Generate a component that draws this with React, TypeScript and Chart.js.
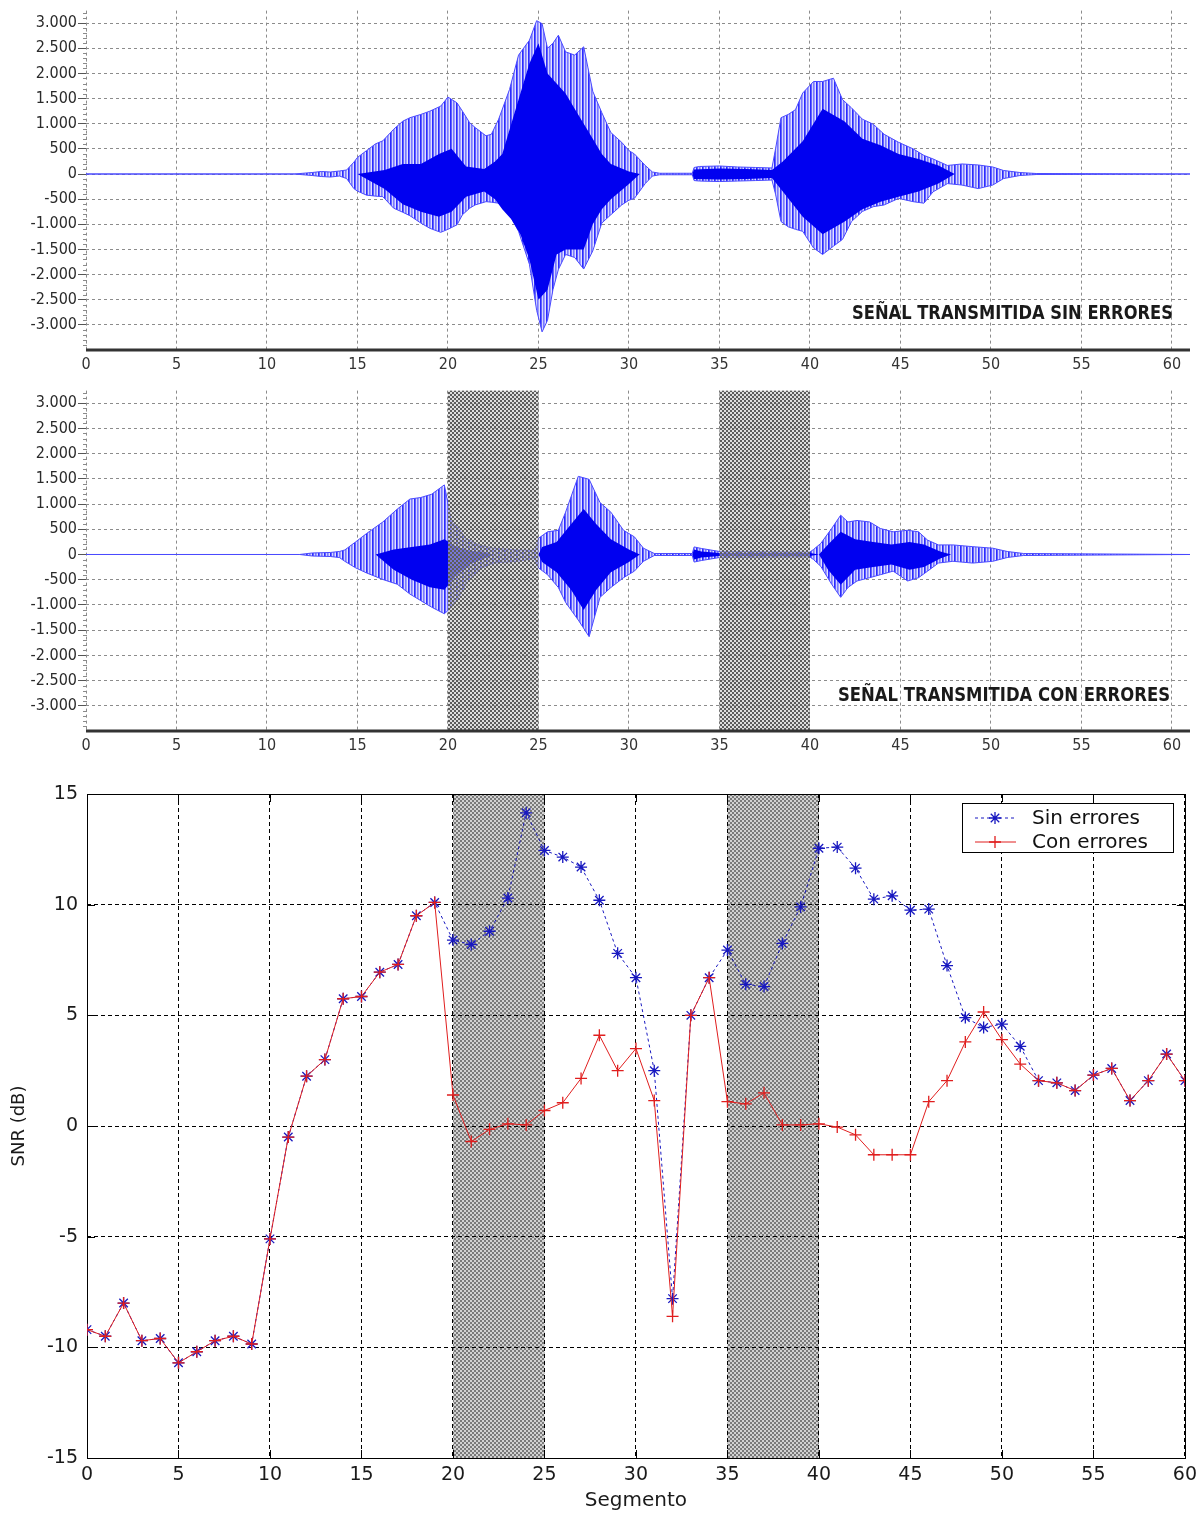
import React, { useEffect, useRef } from "react";
import { Chart, registerables } from "chart.js";

Chart.register(...registerables);

// ---------- shared axis data ----------
const segmentTicks = [0, 5, 10, 15, 20, 25, 30, 35, 40, 45, 50, 55, 60];
const segmentLabels = ["0", "5", "10", "15", "20", "25", "30", "35", "40", "45", "50", "55", "60"];
const ampTicks = [3000, 2500, 2000, 1500, 1000, 500, 0, -500, -1000, -1500, -2000, -2500, -3000];
const ampTickLabels = ["3.000", "2.500", "2.000", "1.500", "1.000", "500", "0", "-500", "-1.000", "-1.500", "-2.000", "-2.500", "-3.000"];
const errorSegments = [[20, 25], [35, 40]];

// ---------- panel 1: señal sin errores (amplitude envelope) ----------
const sinPos = [0, 11.5, 12.5, 13.0, 13.5, 14.0, 14.4, 14.8, 15.0, 15.5, 16.0, 16.4, 17.0, 17.5, 17.9, 18.5, 19.0, 19.6, 20.0, 20.5, 20.8, 21.2, 21.5, 22.1, 22.4, 22.8, 23.4, 23.9, 24.5, 24.9, 25.2, 25.5, 25.8, 26.1, 26.5, 27.0, 27.5, 28.0, 28.5, 29.0, 29.6, 30.0, 30.3, 30.9, 31.3, 31.7, 33.5, 33.6, 33.9, 35.0, 36.0, 37.0, 37.9, 38.1, 38.4, 38.8, 39.2, 39.6, 40.2, 40.7, 41.3, 41.8, 42.3, 42.9, 43.5, 44.1, 44.9, 45.7, 46.3, 46.8, 47.6, 48.4, 49.3, 50.1, 50.7, 51.6, 52.5, 61];
const sinUpper = [0, 0, 30, 50, 40, 60, 80, 235, 330, 465, 600, 660, 890, 1050, 1120, 1185, 1250, 1350, 1530, 1415, 1250, 1020, 925, 760, 790, 1090, 1680, 2365, 2660, 3050, 2990, 2500, 2600, 2760, 2430, 2365, 2530, 1645, 1220, 825, 630, 465, 400, 170, 40, 15, 15, 130, 150, 160, 140, 130, 120, 500, 1120, 1185, 1280, 1610, 1840, 1840, 1905, 1480, 1315, 1090, 990, 790, 630, 500, 370, 300, 170, 200, 180, 140, 70, 30, 10, 0];
const sinLower = [0, 0, -30, -50, -60, -40, -90, -290, -340, -420, -440, -450, -680, -760, -830, -975, -1080, -1160, -1100, -1010, -810, -680, -615, -550, -560, -580, -810, -1140, -1795, -2710, -3140, -2910, -2300, -1900, -1600, -1660, -1890, -1530, -975, -810, -615, -520, -485, -190, -40, -15, -15, -130, -140, -150, -140, -130, -120, -400, -945, -1050, -1100, -1140, -1470, -1600, -1435, -1300, -945, -745, -650, -615, -485, -550, -580, -355, -190, -220, -290, -220, -90, -30, -10, 0];
const sinCorePos = [15.0, 16.5, 17.5, 18.5, 19.5, 20.2, 21.0, 22.0, 22.6, 23.0, 23.5, 24.0, 24.5, 25.0, 25.5, 26.0, 26.5, 27.0, 27.5, 28.0, 28.5, 29.0, 30.0, 30.6, 33.5, 33.6, 35.0, 36.5, 37.9, 38.5, 39.6, 40.7, 41.9, 42.9, 43.9, 44.9, 46.0, 47.1, 48.0];
const sinCoreUpper = [0, 80, 200, 200, 400, 500, 150, 100, 250, 400, 1000, 1600, 2200, 2600, 2000, 1800, 1600, 1300, 1000, 700, 400, 200, 50, 0, 0, 90, 110, 100, 80, 250, 650, 1300, 1050, 700, 570, 400, 300, 170, 0];
const sinCoreLower = [0, -300, -600, -750, -850, -750, -450, -350, -500, -700, -900, -1200, -1700, -2500, -2300, -1600, -1500, -1500, -1500, -1000, -700, -500, -200, 0, 0, -100, -110, -100, -80, -350, -850, -1200, -950, -700, -550, -450, -350, -190, 0];

// ---------- panel 2: señal con errores ----------
const conPos = [0, 11.8, 12.5, 13.5, 14.0, 14.3, 14.9, 15.5, 16.4, 17.2, 17.9, 18.5, 19.1, 19.8, 20.2, 20.6, 21.0, 21.7, 22.5, 23.8, 24.8, 25.0, 25.5, 26.1, 26.5, 27.2, 27.8, 28.4, 29.0, 29.7, 30.3, 30.8, 31.4, 33.5, 33.6, 34.0, 35.0, 40.0, 40.2, 40.6, 41.2, 41.7, 42.1, 42.6, 43.3, 43.9, 44.6, 45.4, 46.0, 46.5, 47.1, 47.9, 49.0, 50.1, 50.9, 51.8, 61];
const conUpper = [0, 0, 30, 40, 60, 90, 250, 415, 645, 900, 1100, 1130, 1195, 1380, 645, 515, 320, 190, 125, 90, 80, 320, 450, 480, 840, 1550, 1490, 1030, 840, 480, 350, 125, 20, 20, 150, 120, 60, 50, 100, 220, 515, 780, 645, 675, 645, 515, 450, 480, 450, 285, 190, 190, 155, 125, 60, 20, 0];
const conLower = [0, 0, -30, -40, -60, -135, -265, -365, -495, -590, -785, -915, -1045, -1175, -1045, -850, -590, -300, -170, -135, -80, -265, -400, -655, -950, -1300, -1630, -850, -655, -460, -330, -135, -20, -20, -150, -120, -60, -50, -100, -235, -590, -850, -655, -525, -460, -400, -330, -525, -460, -330, -170, -135, -170, -135, -60, -20, 0];
const conCorePos = [16.0, 17.0, 18.0, 19.0, 19.8, 20.5, 21.2, 22.0, 22.5, 25.0, 25.2, 26.0, 26.8, 27.5, 28.2, 29.0, 30.0, 30.6, 33.5, 33.6, 34.0, 35.0, 40.0, 40.5, 41.0, 41.7, 42.5, 43.5, 44.5, 45.5, 46.3, 47.2, 47.8];
const conCoreUpper = [0, 100, 150, 200, 300, 150, 80, 40, 0, 0, 150, 250, 600, 900, 600, 300, 100, 0, 0, 100, 60, 30, 30, 0, 200, 450, 300, 250, 200, 250, 200, 60, 0];
const conCoreLower = [0, -300, -500, -650, -700, -400, -200, -80, 0, 0, -150, -350, -700, -1100, -700, -350, -150, 0, 0, -100, -60, -30, -30, 0, -300, -600, -300, -250, -200, -300, -250, -80, 0];

// ---------- panel 3: SNR por segmento ----------
const segmentos = [0, 1, 2, 3, 4, 5, 6, 7, 8, 9, 10, 11, 12, 13, 14, 15, 16, 17, 18, 19, 20, 21, 22, 23, 24, 25, 26, 27, 28, 29, 30, 31, 32, 33, 34, 35, 36, 37, 38, 39, 40, 41, 42, 43, 44, 45, 46, 47, 48, 49, 50, 51, 52, 53, 54, 55, 56, 57, 58, 59, 60];
const snrSinErrores = [-9.2, -9.5, -8.0, -9.7, -9.6, -10.7, -10.2, -9.7, -9.5, -9.85, -5.1, -0.5, 2.25, 3.0, 5.75, 5.85, 6.95, 7.3, 9.5, 10.1, 8.4, 8.2, 8.8, 10.3, 14.15, 12.45, 12.15, 11.7, 10.2, 7.8, 6.7, 2.5, -7.8, 5.0, 6.7, 7.95, 6.4, 6.3, 8.25, 9.9, 12.55, 12.6, 11.65, 10.25, 10.4, 9.75, 9.8, 7.25, 4.9, 4.45, 4.6, 3.6, 2.05, 1.95, 1.6, 2.3, 2.6, 1.15, 2.05, 3.25, 2.05];
const snrConErrores = [-9.2, -9.5, -8.0, -9.7, -9.6, -10.7, -10.2, -9.7, -9.5, -9.85, -5.1, -0.5, 2.25, 3.0, 5.75, 5.85, 6.95, 7.3, 9.5, 10.1, 1.4, -0.7, -0.15, 0.1, 0.05, 0.7, 1.05, 2.15, 4.1, 2.5, 3.5, 1.15, -8.6, 5.0, 6.7, 1.1, 1.0, 1.5, 0.05, 0.05, 0.1, -0.05, -0.4, -1.3, -1.3, -1.3, 1.1, 2.05, 3.8, 5.15, 3.9, 2.8, 2.05, 1.95, 1.6, 2.3, 2.6, 1.15, 2.05, 3.25, 2.05];
const snrTicks = [15, 10, 5, 0, -5, -10, -15];
const snrTickLabels = ["15", "10", "5", "0", "-5", "-10", "-15"];

const NARROW = '"Liberation Sans Narrow", "DejaVu Sans Condensed", "Arial Narrow", sans-serif';
const ROUND = '"DejaVu Sans", "Liberation Sans", sans-serif';

function pts(xs: number[], ys: number[]) {
  return xs.map((x, i) => ({ x, y: ys[i] }));
}

function makePatternCanvas(w: number, h: number, paint: (g: CanvasRenderingContext2D) => void) {
  const c = document.createElement("canvas");
  c.width = w;
  c.height = h;
  const g = c.getContext("2d")!;
  paint(g);
  return c;
}

function checker(ctx: CanvasRenderingContext2D, cell: number, dark: string, light: string) {
  const c = makePatternCanvas(cell * 2, cell * 2, (g) => {
    g.clearRect(0, 0, cell * 2, cell * 2);
    g.fillStyle = light;
    g.fillRect(0, 0, cell * 2, cell * 2);
    g.clearRect(0, 0, cell, cell);
    g.clearRect(cell, cell, cell, cell);
    g.fillStyle = dark;
    g.fillRect(0, 0, cell, cell);
    g.fillRect(cell, cell, cell, cell);
  });
  return ctx.createPattern(c, "repeat")!;
}

function stripes(ctx: CanvasRenderingContext2D) {
  const cols = ["#2a2aff", "#6262ff", "#d4d4ff", "#7a7aff", "#9e9eff", "#e2e2ff"];
  const c = makePatternCanvas(cols.length, 1, (g) => {
    cols.forEach((col, i) => {
      g.fillStyle = col;
      g.fillRect(i, 0, 1, 1);
    });
  });
  return ctx.createPattern(c, "repeat")!;
}

function drawFitText(ctx: CanvasRenderingContext2D, text: string, font: string, right: number, capCenterY: number, targetW: number, capH: number) {
  ctx.save();
  ctx.font = font;
  const w = ctx.measureText(text).width;
  ctx.translate(right - targetW, capCenterY + capH / 2);
  ctx.scale(targetW / w, 1);
  ctx.textAlign = "left";
  ctx.textBaseline = "alphabetic";
  ctx.fillStyle = "#1a1a1a";
  ctx.fillText(text, 0, 0);
  ctx.restore();
}

type WaveOpts = {
  pos: number[]; upper: number[]; lower: number[];
  corePos: number[]; coreUpper: number[]; coreLower: number[];
  title: string; titleW: number; titleRightInset: number; titleBottomInset: number;
  xAxisH: number; shade: boolean;
};

function makeWaveChart(canvas: HTMLCanvasElement, o: WaveOpts) {
  const ctx = canvas.getContext("2d")!;
  const stripePat = stripes(ctx);
  const shadePat = checker(ctx, 2, "#5c5c5c", "rgba(200,200,200,0.6)");

  const wavePlugin = {
    id: "waveDecor",
    afterDatasetsDraw(chart: any) {
      const a = chart.chartArea;
      const xs = chart.scales.x;
      const c = chart.ctx;
      if (o.shade) {
        c.save();
        c.fillStyle = shadePat;
        errorSegments.forEach(([s, e]) => {
          const x1 = xs.getPixelForValue(s);
          const x2 = xs.getPixelForValue(e);
          c.fillRect(x1, a.top, x2 - x1, a.bottom - a.top);
        });
        c.restore();
      }
    },
    afterDraw(chart: any) {
      const a = chart.chartArea;
      const ys = chart.scales.y;
      const c = chart.ctx;
      c.save();
      c.strokeStyle = "#8a8a8a";
      c.lineWidth = 1;
      for (let v = -3400; v <= 3200; v += 100) {
        if (v % 500 === 0) continue;
        const y = Math.round(ys.getPixelForValue(v)) + 0.5;
        c.beginPath();
        c.moveTo(a.left - 3, y);
        c.lineTo(a.left + 1, y);
        c.stroke();
      }
      c.strokeStyle = "#333";
      c.lineWidth = 3;
      c.beginPath();
      c.moveTo(a.left, a.bottom);
      c.lineTo(a.right, a.bottom);
      c.stroke();
      c.restore();
      drawFitText(c, o.title, `bold 20px ${NARROW}`, a.right - o.titleRightInset, a.bottom - o.titleBottomInset, o.titleW, 14);
    },
  };

  return new Chart(canvas, {
    type: "line",
    data: {
      datasets: [
        { data: pts(o.corePos, o.coreUpper), borderWidth: 0, borderColor: "rgba(0,0,0,0)", pointRadius: 0, fill: false },
        { data: pts(o.corePos, o.coreLower), borderWidth: 0, borderColor: "rgba(0,0,0,0)", pointRadius: 0, fill: "-1", backgroundColor: "#0000f0" },
        { data: pts(o.pos, o.upper), borderWidth: 1, borderColor: "#4a4aff", pointRadius: 0, fill: false },
        { data: pts(o.pos, o.lower), borderWidth: 1, borderColor: "#4a4aff", pointRadius: 0, fill: "-1", backgroundColor: stripePat },
      ],
    } as any,
    options: {
      responsive: false,
      animation: false,
      devicePixelRatio: 1,
      layout: { padding: { top: 7, right: 13, left: 0, bottom: 0 } },
      plugins: { legend: { display: false }, tooltip: { enabled: false } },
      elements: { line: { tension: 0 } },
      scales: {
        x: {
          type: "linear",
          min: 0,
          max: 61,
          afterBuildTicks: (s: any) => { s.ticks = segmentTicks.map((v) => ({ value: v })); },
          afterFit: (s: any) => { s.height = o.xAxisH; },
          ticks: {
            autoSkip: false,
            maxRotation: 0,
            padding: 5,
            color: "#333",
            font: { family: NARROW, size: 16 },
            callback: (v: any) => segmentLabels[segmentTicks.indexOf(Number(v))],
          },
          grid: { color: "#8c8c8c", lineWidth: 1, drawTicks: false },
          border: { display: false, dash: [3, 3] },
        },
        y: {
          type: "linear",
          min: -3500,
          max: 3250,
          afterBuildTicks: (s: any) => { s.ticks = ampTicks.map((v) => ({ value: v })); },
          afterFit: (s: any) => { s.width = 86; },
          ticks: {
            autoSkip: false,
            padding: 1,
            color: "#2a2a2a",
            font: { family: NARROW, size: 16 },
            callback: (v: any) => ampTickLabels[ampTicks.indexOf(Number(v))],
          },
          grid: { color: "#8c8c8c", lineWidth: 1, drawTicks: true, tickLength: 8, tickColor: "#555" },
          border: { display: false, dash: [3, 3] },
        },
      },
    } as any,
    plugins: [wavePlugin],
  });
}

function drawMarker(c: CanvasRenderingContext2D, style: string, x: number, y: number, r: number) {
  c.beginPath();
  c.moveTo(x - r, y); c.lineTo(x + r, y);
  c.moveTo(x, y - r); c.lineTo(x, y + r);
  if (style === "star") {
    const d = r * Math.cos(Math.PI / 4);
    c.moveTo(x - d, y - d); c.lineTo(x + d, y + d);
    c.moveTo(x - d, y + d); c.lineTo(x + d, y - d);
  }
  c.stroke();
}

function makeSnrChart(canvas: HTMLCanvasElement) {
  const ctx = canvas.getContext("2d")!;
  const shadePat = checker(ctx, 2, "#7a7a7a", "#d2d2d2");

  const snrPlugin = {
    id: "snrDecor",
    beforeDraw(chart: any) {
      const a = chart.chartArea;
      const xs = chart.scales.x;
      const c = chart.ctx;
      c.save();
      c.fillStyle = shadePat;
      errorSegments.forEach(([s, e]) => {
        const x1 = xs.getPixelForValue(s);
        const x2 = xs.getPixelForValue(e);
        c.fillRect(x1, a.top, x2 - x1, a.bottom - a.top);
      });
      c.restore();
    },
    beforeDatasetsDraw(chart: any) {
      const a = chart.chartArea;
      const xs = chart.scales.x;
      const ys = chart.scales.y;
      const c = chart.ctx;
      c.save();
      c.strokeStyle = "#000";
      c.lineWidth = 1;
      c.setLineDash([]);
      c.strokeRect(Math.round(a.left) + 0.5, Math.round(a.top) + 0.5, Math.round(a.right - a.left), Math.round(a.bottom - a.top));
      const tl = 8;
      segmentTicks.forEach((v) => {
        const x = Math.round(xs.getPixelForValue(v)) + 0.5;
        c.beginPath();
        c.moveTo(x, a.bottom); c.lineTo(x, a.bottom - tl);
        c.moveTo(x, a.top); c.lineTo(x, a.top + tl);
        c.stroke();
      });
      snrTicks.forEach((v) => {
        const y = Math.round(ys.getPixelForValue(v)) + 0.5;
        c.beginPath();
        c.moveTo(a.left, y); c.lineTo(a.left + tl, y);
        c.moveTo(a.right, y); c.lineTo(a.right - tl, y);
        c.stroke();
      });
      c.restore();
    },
    afterDraw(chart: any) {
      const a = chart.chartArea;
      const c = chart.ctx;
      const w = 211, h = 49;
      const x0 = Math.round(a.right - 12 - w);
      const y0 = Math.round(a.top + 9);
      c.save();
      c.fillStyle = "#fff";
      c.fillRect(x0, y0, w, h);
      c.strokeStyle = "#000";
      c.lineWidth = 1;
      c.strokeRect(x0 + 0.5, y0 + 0.5, w, h);
      const entries = [chart.data.datasets[1], chart.data.datasets[0]];
      entries.forEach((ds: any, i: number) => {
        const cy = y0 + 15 + i * 24;
        c.strokeStyle = ds.borderColor;
        c.lineWidth = 1;
        c.setLineDash(ds.borderDash || []);
        c.beginPath();
        c.moveTo(x0 + 13, cy);
        c.lineTo(x0 + 54, cy);
        c.stroke();
        c.setLineDash([]);
        c.lineWidth = ds.pointBorderWidth;
        c.strokeStyle = ds.pointBorderColor;
        drawMarker(c, ds.pointStyle, x0 + 33, cy, ds.pointRadius);
        c.fillStyle = "#111";
        c.font = `20px ${ROUND}`;
        c.textAlign = "left";
        c.textBaseline = "middle";
        c.fillText(ds.label, x0 + 70, cy + 1);
      });
      c.restore();
    },
  };

  return new Chart(canvas, {
    type: "line",
    data: {
      datasets: [
        {
          label: "Con errores",
          data: pts(segmentos, snrConErrores),
          borderColor: "#e01e1e",
          borderWidth: 1,
          pointStyle: "cross",
          pointRadius: 6,
          pointBorderWidth: 1.3,
          pointBorderColor: "#e01e1e",
          pointBackgroundColor: "#e01e1e",
          fill: false,
        },
        {
          label: "Sin errores",
          data: pts(segmentos, snrSinErrores),
          borderColor: "#1818c0",
          borderWidth: 1,
          borderDash: [3, 3],
          pointStyle: "star",
          pointRadius: 6,
          pointBorderWidth: 1.3,
          pointBorderColor: "#1818c0",
          pointBackgroundColor: "#1818c0",
          fill: false,
        },
      ],
    } as any,
    options: {
      responsive: false,
      animation: false,
      devicePixelRatio: 1,
      layout: { padding: { top: 34, right: 18, left: 0, bottom: 0 } },
      plugins: { legend: { display: false }, tooltip: { enabled: false } },
      elements: { line: { tension: 0 } },
      scales: {
        x: {
          type: "linear",
          min: 0,
          max: 60,
          afterBuildTicks: (s: any) => { s.ticks = segmentTicks.map((v) => ({ value: v })); },
          afterFit: (s: any) => { s.height = 55; },
          ticks: {
            autoSkip: false,
            maxRotation: 0,
            padding: 6,
            color: "#1a1a1a",
            font: { family: ROUND, size: 19 },
            callback: (v: any) => segmentLabels[segmentTicks.indexOf(Number(v))],
          },
          title: { display: true, text: "Segmento", color: "#1a1a1a", font: { family: ROUND, size: 20 }, padding: 0 },
          grid: { color: "#000", lineWidth: 1, drawTicks: false },
          border: { display: false, dash: [4, 3] },
        },
        y: {
          type: "linear",
          min: -15,
          max: 15,
          afterBuildTicks: (s: any) => { s.ticks = snrTicks.map((v) => ({ value: v })); },
          afterFit: (s: any) => { s.width = 87; },
          ticks: {
            autoSkip: false,
            padding: 9,
            color: "#1a1a1a",
            font: { family: ROUND, size: 19 },
            callback: (v: any) => snrTickLabels[snrTicks.indexOf(Number(v))],
          },
          title: { display: true, text: "SNR (dB)", color: "#1a1a1a", font: { family: ROUND, size: 18 }, padding: { top: 9, bottom: 0 } },
          grid: { color: "#000", lineWidth: 1, drawTicks: false },
          border: { display: false, dash: [4, 3] },
        },
      },
    } as any,
    plugins: [snrPlugin],
  });
}

export default function App() {
  const r1 = useRef<HTMLCanvasElement>(null);
  const r2 = useRef<HTMLCanvasElement>(null);
  const r3 = useRef<HTMLCanvasElement>(null);

  useEffect(() => {
    const charts = [
      makeWaveChart(r1.current!, {
        pos: sinPos, upper: sinUpper, lower: sinLower,
        corePos: sinCorePos, coreUpper: sinCoreUpper, coreLower: sinCoreLower,
        title: "SEÑAL TRANSMITIDA SIN ERRORES", titleW: 321, titleRightInset: 17, titleBottomInset: 38,
        xAxisH: 30, shade: false,
      }),
      makeWaveChart(r2.current!, {
        pos: conPos, upper: conUpper, lower: conLower,
        corePos: conCorePos, coreUpper: conCoreUpper, coreLower: conCoreLower,
        title: "SEÑAL TRANSMITIDA CON ERRORES", titleW: 332, titleRightInset: 20, titleBottomInset: 37,
        xAxisH: 29, shade: true,
      }),
      makeSnrChart(r3.current!),
    ];
    return () => charts.forEach((c) => c.destroy());
  }, []);

  return (
    <div style={{ position: "absolute", left: 0, top: 0, width: 1203, height: 1513, background: "#fff", overflow: "hidden" }}>
      <canvas ref={r1} width={1203} height={380} style={{ position: "absolute", left: 0, top: 0 }} />
      <canvas ref={r2} width={1203} height={380} style={{ position: "absolute", left: 0, top: 380 }} />
      <canvas ref={r3} width={1203} height={753} style={{ position: "absolute", left: 0, top: 760 }} />
    </div>
  );
}
